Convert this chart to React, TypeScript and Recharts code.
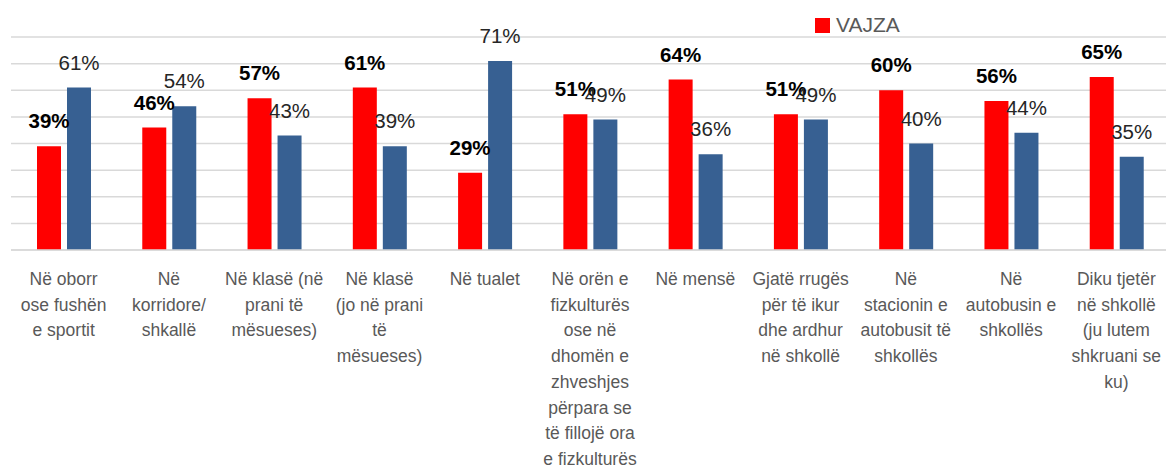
import React from "react";
import { BarChart, Bar, XAxis, YAxis, CartesianGrid, LabelList } from "recharts";

const categories: string[] = [
  "Në oborr\nose fushën\ne sportit",
  "Në\nkorridore/\nshkallë",
  "Në klasë (në\nprani të\nmësueses)",
  "Në klasë\n(jo në prani\ntë\nmësueses)",
  "Në tualet",
  "Në orën e\nfizkulturës\nose në\ndhomën e\nzhveshjes\npërpara se\ntë fillojë ora\ne fizkulturës",
  "Në mensë",
  "Gjatë rrugës\npër të ikur\ndhe ardhur\nnë shkollë",
  "Në\nstacionin e\nautobusit të\nshkollës",
  "Në\nautobusin e\nshkollës",
  "Diku tjetër\nnë shkollë\n(ju lutem\nshkruani se\nku)",
];

const vajza: number[] = [39, 46, 57, 61, 29, 51, 64, 51, 60, 56, 65];
const djem: number[] = [61, 54, 43, 39, 71, 49, 36, 49, 40, 44, 35];

const yTicks: number[] = [0, 10, 20, 30, 40, 50, 60, 70, 80];

const data = categories.map((c, i) => ({ cat: c, VAJZA: vajza[i], DJEM: djem[i] }));

const FONT = "'Liberation Sans', Arial, sans-serif";

const Tick = (props: any) => {
  const { x, y, payload } = props;
  const lines: string[] = String(payload.value).split("\n");
  return (
    <text x={x} y={y} textAnchor="middle" fill="#595959" fontSize={17.5} fontFamily={FONT}>
      {lines.map((l, i) => (
        <tspan key={i} x={x} dy={i === 0 ? 27 : 25.7}>
          {l}
        </tspan>
      ))}
    </text>
  );
};

export default function App() {
  return (
    <div style={{ position: "absolute", left: 0, top: 0, width: 1166, height: 468, background: "#fff" }}>
      <BarChart
        width={1166}
        height={468}
        data={data}
        margin={{ top: 37, right: -3, left: 11, bottom: 0 }}
        barSize={24}
        barGap={6}
      >
        <CartesianGrid vertical={false} stroke="#d9d9d9" strokeWidth={1.5} />
        <YAxis hide domain={[0, 80]} ticks={yTicks} />
        <XAxis
          dataKey="cat"
          height={218}
          interval={0}
          tickLine={false}
          axisLine={{ stroke: "#d9d9d9", strokeWidth: 1.5 }}
          tick={<Tick />}
        />
        <Bar dataKey="VAJZA" fill="#ff0000" isAnimationActive={false}>
          <LabelList
            dataKey="VAJZA"
            position="top"
            offset={18}
            formatter={(v: any) => `${v}%`}
            style={{ fontFamily: FONT, fontSize: 20.5, fontWeight: "bold", fill: "#000" }}
          />
        </Bar>
        <Bar dataKey="DJEM" fill="#376092" isAnimationActive={false}>
          <LabelList
            dataKey="DJEM"
            position="top"
            offset={18}
            formatter={(v: any) => `${v}%`}
            style={{ fontFamily: FONT, fontSize: 20.5, fill: "#262626" }}
          />
        </Bar>
      </BarChart>
      <div
        style={{
          position: "absolute",
          left: 815,
          top: 13,
          display: "flex",
          alignItems: "center",
          fontFamily: FONT,
          fontSize: 21,
          color: "#595959",
        }}
      >
        <span style={{ display: "inline-block", width: 15, height: 15, background: "#ff0000", marginRight: 6 }} />
        <span>VAJZA</span>
      </div>
    </div>
  );
}
